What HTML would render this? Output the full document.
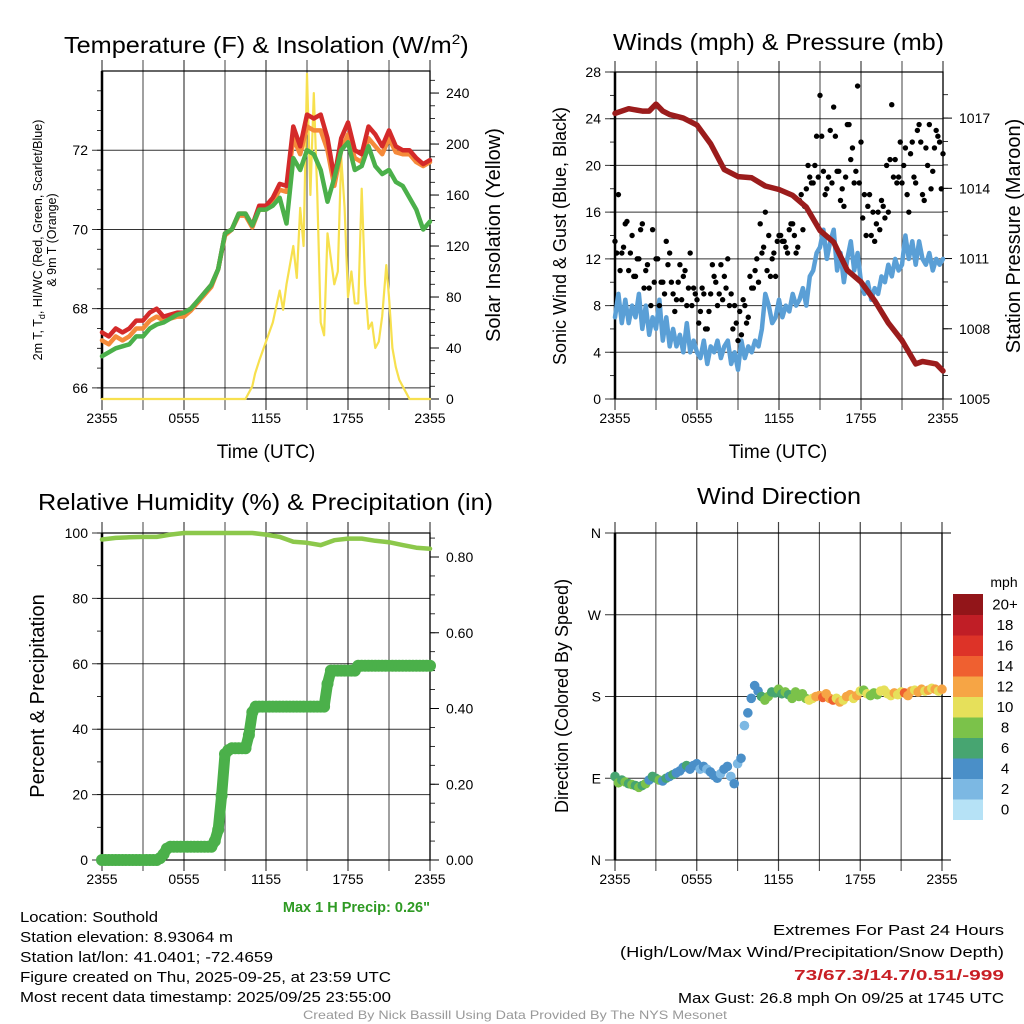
<!DOCTYPE html>
<html><head><meta charset="utf-8"><style>
body{margin:0;background:#fff;}
svg{display:block;font-family:"Liberation Sans",Arial,sans-serif;}
</style></head><body>
<svg id="c" width="1024" height="1024" viewBox="0 0 1024 1024"></svg>
<script>
// ---------- data ----------
const hrs05 = [0,0.5,1,1.5,2,2.5,3,3.5,4,4.5,5,5.5,6,6.5,7,7.5,8,8.5,9,9.5,10,10.5,11,11.5,12,12.5,13,13.5,14,14.5,15,15.5,16,16.5,17,17.5,18,18.5,19,19.5,20,20.5,21,21.5,22,22.5,23,23.5,24];
const tempRed = [67.4,67.3,67.5,67.4,67.5,67.7,67.7,67.9,68.0,67.8,67.85,67.9,67.9,68.0,68.2,68.4,68.6,69.0,69.9,70.0,70.4,70.4,70.1,70.6,70.6,70.8,71.15,71.1,72.6,72.1,72.9,72.8,72.9,72.3,71.3,72.3,72.7,72.0,71.9,72.6,72.4,72.1,72.5,72.1,72.0,72.0,71.8,71.65,71.75];
const tempOrange = [67.2,67.1,67.3,67.2,67.3,67.5,67.5,67.7,67.8,67.7,67.75,67.8,67.8,67.95,68.15,68.35,68.55,69.0,69.85,70.0,70.35,70.35,70.05,70.5,70.5,70.7,71.0,70.95,72.3,71.9,72.6,72.5,72.5,72.0,71.1,72.0,72.4,71.8,71.7,72.3,72.1,71.9,72.3,71.95,71.9,71.9,71.7,71.6,71.7];
const tempGreen = [66.8,66.9,67.0,67.05,67.1,67.3,67.3,67.5,67.6,67.65,67.75,67.85,67.9,68.0,68.2,68.4,68.6,69.0,69.9,70.0,70.4,70.4,70.1,70.5,70.5,70.6,70.8,70.15,71.8,71.5,72.0,71.9,71.5,70.7,71.3,72.0,72.2,71.5,71.6,72.1,71.6,71.4,71.5,71.2,71.1,70.8,70.5,70.0,70.2];
const insolHrs = [0,10.5,11,11.2,11.5,12,12.5,13,13.25,13.5,14,14.25,14.5,14.75,15,15.25,15.5,15.75,16,16.25,16.5,17,17.25,17.5,17.75,18,18.25,18.5,18.75,19,19.25,19.5,19.75,20,20.25,20.5,20.8,21,21.25,21.5,21.75,22,22.5,24];
const insolVals = [0,0,10,20,30,45,60,85,70,90,120,95,150,120,255,160,240,160,60,50,130,90,100,190,150,80,100,75,75,165,90,55,60,40,45,65,105,80,40,25,15,10,0,0];
const windSpeed = [7,9,6.5,8.5,6.5,8,7,9,6, 8,5.5,7,6,8.5,5,7,4.5, 6,4.5,5.5,4,6.5,4,5,4, 3.5,5,3,4.5,4,5,3.5,4.5, 5,3,4,2.5,5,3.5,4.5,4, 5,4.5,6,9,8,6.5,7,8.5, 7,8,7.5,9,8,8.5,9.5,8, 10.5,11,12.5,13,14.5,12,13.5,14.5, 11,12.5,10,12,13.5,11,12.5,10, 9,10,8.5,9.5,9,10.5,10,11.5, 10.5,12,11,11.5,14,12,13.5,11.5, 13.5,12,11.5,12.5,11,12,11.5,12];
const pressHrs = [0,1,2,2.5,3,3.5,4,5,6,7,8,9,10,11,12,13,14,15,16,17,18,19,20,21,22,22.5,23,23.5,24];
const pressVals = [1017.2,1017.4,1017.3,1017.3,1017.6,1017.3,1017.15,1017.0,1016.7,1015.9,1014.8,1014.5,1014.45,1014.1,1013.95,1013.7,1013.2,1012.2,1011.7,1010.5,1010.0,1009.2,1008.25,1007.5,1006.5,1006.6,1006.55,1006.5,1006.2];
const gustVals = [13.5,17.5,12.5,15,11,14,10.5,12,15, 11,9.5,14.5,12,8,10,13.5,12.5, 9,8.5,11.5,10.5,8,12.5,9.5,8.5, 7.5,9,6,9,10.5,8,11.5,10.5, 12,9,8,5,5.5,8,7,9.5, 11,10,12.5,16,14,12,10.5,14, 13.5,13,14.5,15,12.5,17,14.5,18, 19,18.5,22.5,26,19.5,18,23,25, 19.5,17,16.5,23.5,20.5,18.5,26.8,22, 17.5,16.5,14,13.5,16,17,15.5,16, 25.2,20.5,19,18.5,21.5,16,22,18.5, 23.5,17.5,21.5,23.5,19.5,23,22,21];
const gustVals2 = [12.5,11,13,15.2,12.5,10.5,12,14.5, 9.5,11.5,8,10,12,10,9,11.5, 10,7.5,10,8.5,11,9.5,8,9, 6.5,9.5,6,7.5,11.5,10,9,8.5, 9.5,8,6,6.5,7.5,8.5,6.5,10.5, 9.5,12,15,13,11,10.5,12.5,13.5, 14,13.5,12.5,15,14,13,17.5,16.5, 20,18.5,20,19,22.5,17.5,19,18.5, 22.5,19.5,18,19,23.5,21.5,19.5,18.5, 15.5,14,17.5,16,15,14.5,16.5,20, 20.5,19,18.5,22,20,17.5,21,19, 23,22,17,20,18,21.5,22.5,18];
const rhHrs = [0,1,2,3,4,5,6,7,8,9,10,11,12,13,14,15,16,17,18,19,20,21,22,23,24];
const rhVals = [98,98.5,98.7,98.8,98.8,99.5,100,100,100,100,100,100,99.5,98.8,97.3,97,96.3,97.8,98.3,98.3,97.6,97.2,96.3,95.5,95.2];
const precipVals = [0,0,0,0,0,0,0,0,0,0,0,0,0,0,0,0,0, 0.005,0.015,0.03,0.035, 0.035,0.035,0.035,0.035,0.035,0.035,0.035,0.035,0.035,0.035,0.035,0.035, 0.05,0.08,0.17,0.28,0.29, 0.295,0.295,0.295,0.295,0.295, 0.33,0.39,0.405, 0.405,0.405,0.405,0.405,0.405,0.405,0.405,0.405,0.405,0.405,0.405,0.405,0.405,0.405,0.405,0.405,0.405,0.405,0.405,0.405, 0.465,0.50, 0.50,0.50,0.50,0.50,0.50,0.50,0.50, 0.513,0.513,0.513,0.513,0.513,0.513,0.513,0.513,0.513,0.513,0.513,0.513,0.513,0.513,0.513,0.513,0.513,0.513,0.513,0.513,0.513,0.513];
const dirVals = [92,85,88,86,84,83,82,80,82,84,88,92,90,88,87,90,92,94,96,98,102,104,100,104,106,100,103,100,97,93,90,95,100,103,92,84,106,112,148,162,178,192,186,180,176,180,185,184,188,183,185,182,178,185,180,183,178,176,178,180,181,179,183,178,176,178,174,176,180,182,178,181,186,187,183,181,184,182,186,187,183,181,184,182,185,184,181,186,187,185,188,186,187,189,188,186,188];
const xTickLabels = ["2355","0555","1155","1755","2355"];
const colorLevels = ["0","2","4","6","8","10","12","14","16","18","20+"];
const colorHex = ["#b6e2f6","#7cb8e3","#4a8fc8","#47a571","#7bc24a","#e6e05a","#f6a545","#ef6030","#dd3328","#c01e26","#921519"];

// ---------- helpers ----------
const NS="http://www.w3.org/2000/svg";
const svg=document.getElementById('c');
function el(tag,attrs,parent){const e=document.createElementNS(NS,tag);for(const k in attrs)e.setAttribute(k,attrs[k]);(parent||svg).appendChild(e);return e;}
function txt(s,x,y,size,anchor,parent,extra){const t=el('text',Object.assign({x:x,y:y,'font-size':size,'text-anchor':anchor||'middle',fill:'#000'},extra||{}),parent);t.textContent=s;return t;}
function lin(d0,d1,r0,r1){return v=>r0+(v-d0)/(d1-d0)*(r1-r0);}

function frame(P,g){
  for(let h=0;h<=24;h+=3){const x=P.x(h);
    const gl=el('line',{x1:x,x2:x,y1:P.y0-11,y2:P.y1+11,stroke:'#000','stroke-width':h%6===0?1.2:1,'stroke-opacity':0.75},g);
    }
  xTickLabels.forEach((s,i)=>{const t=txt(s,P.x(i*6),P.y1+24,14,'middle',g);
    });
  el('rect',{x:P.x0,y:P.y0,width:P.x1-P.x0,height:P.y1-P.y0,fill:'none',stroke:'#000','stroke-width':1.2},g);
  el('line',{x1:P.x0,x2:P.x0,y1:P.y0,y2:P.y1,stroke:'#000','stroke-width':2.5},g);
}
function leftAxis(P,g,ticks,labels,grid,minorStep,dmin,dmax){
  ticks.forEach((v,i)=>{const y=P.yl(v);
    if(grid){const l=el('line',{x1:P.x0-10,x2:P.x1,y1:y,y2:y,stroke:'#000','stroke-width':1,'stroke-opacity':0.8},g);
      }
    const t=txt(labels[i],P.x0-14,y+5,14,'end',g);});
  if(minorStep){for(let v=dmin;v<=dmax+1e-9;v+=minorStep){const y=P.yl(v);el('line',{x1:P.x0-5,x2:P.x0,y1:y,y2:y,stroke:'#000','stroke-width':0.8},g);}}
}
function rightAxis(P,g,ticks,labels,minorStep,dmin,dmax){
  ticks.forEach((v,i)=>{const y=P.yr(v);el('line',{x1:P.x1,x2:P.x1+9,y1:y,y2:y,stroke:'#000','stroke-width':1},g);
    const t=txt(labels[i],P.x1+16,y+5,14,'start',g);});
  if(minorStep){for(let v=dmin;v<=dmax+1e-9;v+=minorStep){const y=P.yr(v);el('line',{x1:P.x1,x2:P.x1+5,y1:y,y2:y,stroke:'#000','stroke-width':0.8},g);}}
}
function poly(xs,ys,P,scale,color,w,g,name){
  const pts=xs.map((h,i)=>P.x(h).toFixed(1)+','+scale(ys[i]).toFixed(1)).join(' ');
  const p=el('polyline',{points:pts,fill:'none',stroke:color,'stroke-width':w,'stroke-linejoin':'round','stroke-linecap':'round'},g);
  return p;
}
function mkPanel(x0,x1,y0,y1,l0,l1,r0,r1){return {x0,x1,y0,y1,x:lin(0,24,x0,x1),yl:lin(l0,l1,y1,y0),yr:lin(r0,r1,y1,y0)};}
function title(s,x0,x1,y,name,sup){const t=txt(s,x0,y,23,'start',null,{textLength:x1-x0,lengthAdjust:'spacingAndGlyphs'});
  if(sup){t.removeAttribute('textLength');t.removeAttribute('lengthAdjust');t.setAttribute('transform',`translate(${x0},0) scale(1.1,1) translate(${-x0},0)`);
    const ts=document.createElementNS(NS,'tspan');ts.setAttribute('font-size',14);ts.setAttribute('dy',-9);ts.textContent='2';t.appendChild(ts);const t2=document.createElementNS(NS,'tspan');t2.setAttribute('dy',9);t2.textContent=')';t.appendChild(t2);}return t;}
function vlabel(s,x,y,size,name){const t=txt(s,0,0,size,'middle',null,{transform:`translate(${x},${y}) rotate(-90)`});return t;}

// ---------- Panel 1: temperature ----------
{
const g=el('g',{});
const P=mkPanel(102,430,71,399,65.72,74.0,0,257.3);
frame(P,g);
leftAxis(P,g,[66,68,70,72],["66","68","70","72"],true,0.5,66,73.5);
rightAxis(P,g,[0,40,80,120,160,200,240],["0","40","80","120","160","200","240"],10,0,250);
poly(insolHrs,insolVals,P,P.yr,'#f7e04e',2.2,g,'insolation-line');
poly(hrs05,tempOrange,P,P.yl,'#f58a3a',4.5,g,'temp-9m-line');
poly(hrs05,tempRed,P,P.yl,'#d42a2a',4.5,g,'temp-2m-line');
poly(hrs05,tempGreen,P,P.yl,'#4bb04a',4.5,g,'dewpoint-line');
title('Temperature (F) & Insolation (W/m',64,471,53,'temp-title',true);
txt('Time (UTC)',266,458,19,'middle',g);
const yl=txt('',0,0,12.5,'middle',null,{transform:'translate(42,240) rotate(-90)'});
yl.innerHTML='2m T, T<tspan font-size="9" dy="3">d</tspan><tspan dy="-3">, HI/WC (Red, Green, Scarlet/Blue)</tspan>';
const yl2=txt('& 9m T (Orange)',0,0,12.5,'middle',null,{transform:'translate(56,240) rotate(-90)'});
vlabel('Solar Insolation (Yellow)',500,235,20,'y-axis-title-right');
}
// ---------- Panel 2: winds ----------
{
const g=el('g',{});
const P=mkPanel(615,943,72,399,0,28,1005,1018.97);
frame(P,g);
leftAxis(P,g,[0,4,8,12,16,20,24,28],["0","4","8","12","16","20","24","28"],true,2,0,28);
rightAxis(P,g,[1005,1008,1011,1014,1017],["1005","1008","1011","1014","1017"],1,1005,1018);
poly(windSpeed.map((v,i)=>i*0.25),windSpeed,P,P.yl,'#5a9fd6',4.5,g,'sonic-wind-line');
gustVals.forEach((v,i)=>{const c=el('circle',{cx:P.x(i*0.25),cy:P.yl(v),r:2.7,fill:'#000'},g);
  });
gustVals2.forEach((v,i)=>{const c=el('circle',{cx:P.x(0.125+i*0.25),cy:P.yl(v),r:2.7,fill:'#000'},g);
  });
poly(pressHrs,pressVals,P,P.yr,'#9b1c1c',5.5,g,'pressure-line');
title('Winds (mph) & Pressure (mb)',613,944,50,'winds-title');
txt('Time (UTC)',778,458,19,'middle',g);
vlabel('Sonic Wind & Gust (Blue, Black)',566,236,18,'y-axis-title-left');
vlabel('Station Pressure (Maroon)',1020,236,20,'y-axis-title-right');
}
// ---------- Panel 3: RH & precip ----------
{
const g=el('g',{});
const P=mkPanel(102,430,533,860,0,100,0,0.8634);
frame(P,g);
leftAxis(P,g,[0,20,40,60,80,100],["0","20","40","60","80","100"],true,10,0,100);
rightAxis(P,g,[0,0.2,0.4,0.6,0.8],["0.00","0.20","0.40","0.60","0.80"],0.05,0,0.85);
poly(rhHrs,rhVals,P,P.yl,'#8cc84b',4.5,g,'rh-line');
const ph=precipVals.map((v,i)=>i*0.25);
poly(ph,precipVals,P,P.yr,'#4bb04a',11,g,'precip-line');
precipVals.forEach((v,i)=>{const c=el('circle',{cx:P.x(i*0.25),cy:P.yr(v),r:6,fill:'#4bb04a'},g);
  });
title('Relative Humidity (%) & Precipitation (in)',38,493,510,'humidity-title');
vlabel('Percent & Precipitation',44,696,20,'y-axis-title-left');
const mp=txt('Max 1 H Precip: 0.26"',430,912,14.5,'end',null,{fill:'#2e9a23','font-weight':'bold'});
}
// ---------- Panel 4: wind direction ----------
{
const g=el('g',{});
const P=mkPanel(615,942,533,860,0,360,0,360);
frame(P,g);
leftAxis(P,g,[0,90,180,270,360],["N","E","S","W","N"],true,0,0,0);
[0,90,180,270,360].forEach(v=>{el('line',{x1:P.x1,x2:P.x1+9,y1:P.yl(v),y2:P.yl(v),stroke:'#000','stroke-width':1},g);});
function colorFor(s){let k=Math.floor(s/2);if(k>10)k=10;if(k<0)k=0;return colorHex[k];}
dirVals.forEach((d,i)=>{const s=windSpeed[i];
  const c=el('circle',{cx:P.x(i*0.25),cy:P.yl(d),r:4.8,fill:colorFor(s)},g);
  });
title('Wind Direction',697,861,504,'direction-title');
vlabel('Direction (Colored By Speed)',568,696,18,'y-axis-title-left');
const lg=el('g',{});
const bh=20.5, top=594;
colorLevels.forEach((lab,i)=>{const j=10-i;const y=top+j*bh;
  const r=el('rect',{x:953,y:y,width:30,height:bh+0.5,fill:colorHex[i]},lg);
  const t=txt(lab,1005,y+bh/2+5,15,'middle',lg);});
txt('mph',1004,587,14,'middle',lg);
}
// ---------- footer text ----------
const info=[["Location: Southold",158],["Station elevation: 8.93064 m",233],["Station lat/lon: 41.0401; -72.4659",273],["Figure created on Thu, 2025-09-25, at 23:59 UTC",391],["Most recent data timestamp: 2025/09/25 23:55:00",391]];
info.forEach((a,i)=>{const t=txt(a[0],20,922+i*20,14.5,'start',null,{textLength:a[1]-20,lengthAdjust:'spacingAndGlyphs'});});
const right=[["Extremes For Past 24 Hours",773,935,'#000',false],["(High/Low/Max Wind/Precipitation/Snow Depth)",620,957,'#000',false],["73/67.3/14.7/0.51/-999",794,980,'#c81f25',true],["Max Gust: 26.8 mph On 09/25 at 1745 UTC",678,1003,'#000',false]];
right.forEach(a=>{const t=txt(a[0],a[1],a[2],15,'start',null,{textLength:1004-a[1],lengthAdjust:'spacingAndGlyphs',fill:a[3],'font-weight':a[4]?'bold':'normal'});});
const cr=txt('Created By Nick Bassill Using Data Provided By The NYS Mesonet',303,1019,12,'start',null,{textLength:424,lengthAdjust:'spacingAndGlyphs',fill:'#999'});

</script>
</body></html>
